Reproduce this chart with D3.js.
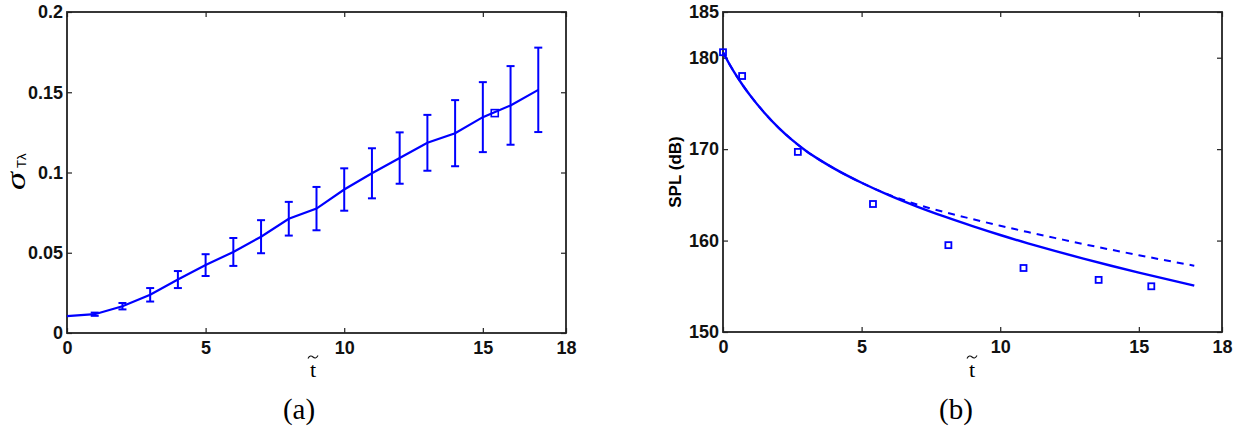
<!DOCTYPE html>
<html>
<head>
<meta charset="utf-8">
<script src="https://cdn.jsdelivr.net/npm/d3@7"></script>
<style>
  body { margin: 0; background: #fff; }
  svg { display: block; }
</style>
</head>
<body>
<svg width="1245" height="433"></svg>
<script>
// panel (a): sigma vs t with error bars
const tA = [0, 1, 2, 3, 4, 5, 6, 7, 8, 9, 10, 11, 12, 13, 14, 15, 16, 17];
const sigmaA = [0.0105, 0.0117, 0.0167, 0.0238, 0.0333, 0.0423, 0.0505, 0.0600, 0.0712, 0.0775,
  0.0894, 0.0995, 0.1090, 0.1185, 0.1245, 0.1345, 0.1418, 0.1515];
const errA = [0, 0.001, 0.002, 0.0042, 0.0053, 0.0068, 0.0087, 0.0103, 0.0105, 0.0135,
  0.0132, 0.0156, 0.016, 0.0174, 0.0206, 0.0218, 0.0245, 0.0263];
const markTA = [15.43];
const markSigmaA = [0.137];

// panel (b): SPL vs t
const tCurve = [0, 0.25, 0.5, 0.75, 1, 1.5, 2, 2.5, 3, 3.5, 4, 5, 6, 7, 8, 9, 10, 11, 12, 13, 14, 15, 16, 17];
const splSolid = [180.6, 179.2, 177.95, 176.83, 175.8, 173.95, 172.35, 170.98, 169.8, 168.8, 167.9, 166.32,
  164.94, 163.72, 162.61, 161.58, 160.61, 159.7, 158.84, 158.03, 157.25, 156.5, 155.78, 155.08];
const splDashed = [180.6, 179.2, 177.95, 176.83, 175.8, 173.95, 172.35, 170.98, 169.8, 168.8, 167.9, 166.32,
  165.0, 163.95, 163.1, 162.35, 161.62, 160.93, 160.27, 159.62, 159.0, 158.4, 157.82, 157.25];
const tSquares = [0, 0.69, 2.7, 5.41, 8.13, 10.84, 13.55, 15.45];
const splSquares = [180.6, 178.0, 169.7, 164.0, 159.5, 157.0, 155.7, 155.0];

const xTicks = [0, 5, 10, 15, 18];
const yTicksA = [0, 0.05, 0.1, 0.15, 0.2];
const yTicksB = [150, 160, 170, 180, 185];

const blue = "#0000ff";
const sans = "'Liberation Sans', Arial, sans-serif";
const serif = "'Liberation Serif', 'DejaVu Serif', serif";

const svg = d3.select("svg");

function frame(x, y, yTicks, yFmt) {
  const g = svg.append("g");
  const [x0, x1] = x.range();
  const [y0, y1] = y.range();

  g.append("g")
    .attr("transform", `translate(0,${y0})`)
    .call(d3.axisBottom(x).tickValues(xTicks).tickSizeInner(-5).tickSizeOuter(0).tickPadding(8).tickFormat(d3.format("d")));
  g.append("g")
    .attr("transform", `translate(0,${y1})`)
    .call(d3.axisTop(x).tickValues(xTicks).tickSizeInner(-5).tickSizeOuter(0).tickFormat(""));
  g.append("g")
    .attr("transform", `translate(${x0},0)`)
    .call(d3.axisLeft(y).tickValues(yTicks).tickSizeInner(-5).tickSizeOuter(0).tickPadding(4).tickFormat(yFmt));
  g.append("g")
    .attr("transform", `translate(${x1},0)`)
    .call(d3.axisRight(y).tickValues(yTicks).tickSizeInner(-5).tickSizeOuter(0).tickFormat(""));

  g.selectAll(".domain").remove();
  g.selectAll(".tick line").attr("stroke", "#222").attr("stroke-width", 1.2);
  g.selectAll(".tick text")
    .attr("font-family", sans)
    .attr("font-size", 18)
    .attr("font-weight", "bold")
    .attr("fill", "#111");

  g.append("rect")
    .attr("x", x0).attr("y", y1)
    .attr("width", x1 - x0).attr("height", y0 - y1)
    .attr("fill", "none").attr("stroke", "#222").attr("stroke-width", 1.8);
  return g;
}

function tildeLabel(cx) {
  svg.append("text")
    .attr("x", cx).attr("y", 377)
    .attr("text-anchor", "middle")
    .attr("font-family", serif)
    .attr("font-size", 22)
    .text("t");
  // the tilde accent over the t
  svg.append("path")
    .attr("transform", `translate(${cx},357)`)
    .attr("d", "M-5,1.5 C-3.5,-1.5 -1.5,-1.5 0,0 C1.5,1.5 3.5,1.5 5,-1.5")
    .attr("fill", "none").attr("stroke", "#111").attr("stroke-width", 1.1);
}

// ---- panel (a)
const xA = d3.scaleLinear().domain([0, 18]).range([67, 566]);
const yA = d3.scaleLinear().domain([0, 0.2]).range([333, 12]);
frame(xA, yA, yTicksA, d => String(d));

const gA = svg.append("g");
gA.append("path")
  .datum(tA.map((t, i) => [t, sigmaA[i]]))
  .attr("fill", "none").attr("stroke", blue).attr("stroke-width", 2.2)
  .attr("d", d3.line().x(d => xA(d[0])).y(d => yA(d[1])));

const bars = gA.selectAll(".eb")
  .data(tA.map((t, i) => ({ t, v: sigmaA[i], e: errA[i] })).filter(d => d.e > 0))
  .enter().append("g").attr("class", "eb")
  .attr("stroke", blue).attr("stroke-width", 2);
bars.append("line")
  .attr("x1", d => xA(d.t)).attr("x2", d => xA(d.t))
  .attr("y1", d => yA(d.v - d.e)).attr("y2", d => yA(d.v + d.e));
bars.append("line")
  .attr("x1", d => xA(d.t) - 4).attr("x2", d => xA(d.t) + 4)
  .attr("y1", d => yA(d.v + d.e)).attr("y2", d => yA(d.v + d.e));
bars.append("line")
  .attr("x1", d => xA(d.t) - 4).attr("x2", d => xA(d.t) + 4)
  .attr("y1", d => yA(d.v - d.e)).attr("y2", d => yA(d.v - d.e));

gA.selectAll(".mk")
  .data(markTA.map((t, i) => [t, markSigmaA[i]]))
  .enter().append("rect")
  .attr("x", d => xA(d[0]) - 3.5).attr("y", d => yA(d[1]) - 3.5)
  .attr("width", 7).attr("height", 7)
  .attr("fill", "none").attr("stroke", blue).attr("stroke-width", 1.6);

// y label sigma_{T lambda}
const lab = svg.append("g").attr("transform", "translate(25,0) rotate(-90)");
lab.append("text")
  .attr("transform", "translate(-190,0) scale(1.3,1)")
  .attr("font-family", serif)
  .attr("font-style", "italic")
  .attr("font-size", 28)
  .text("σ");
lab.append("text")
  .attr("x", -168).attr("y", 1)
  .attr("font-family", sans)
  .attr("font-size", 13)
  .text("Tλ");

tildeLabel(313);
svg.append("text")
  .attr("x", 299).attr("y", 419)
  .attr("text-anchor", "middle")
  .attr("font-family", serif)
  .attr("font-size", 29)
  .text("(a)");

// ---- panel (b)
const xB = d3.scaleLinear().domain([0, 18]).range([723, 1222]);
const yB = d3.scaleLinear().domain([150, 185]).range([332, 12]);
frame(xB, yB, yTicksB, d3.format("d"));

const gB = svg.append("g");
const lineB = d3.line().x(d => xB(d[0])).y(d => yB(d[1])).curve(d3.curveMonotoneX);
gB.append("path")
  .datum(tCurve.map((t, i) => [t, splDashed[i]]))
  .attr("fill", "none").attr("stroke", blue).attr("stroke-width", 2)
  .attr("stroke-dasharray", "7,6")
  .attr("d", lineB);
gB.append("path")
  .datum(tCurve.map((t, i) => [t, splSolid[i]]))
  .attr("fill", "none").attr("stroke", blue).attr("stroke-width", 2.4)
  .attr("d", lineB);

gB.selectAll(".sq")
  .data(tSquares.map((t, i) => [t, splSquares[i]]))
  .enter().append("rect")
  .attr("x", d => xB(d[0]) - 3).attr("y", d => yB(d[1]) - 3)
  .attr("width", 6).attr("height", 6)
  .attr("fill", "none").attr("stroke", blue).attr("stroke-width", 1.8);

svg.append("text")
  .attr("transform", "translate(681,172) rotate(-90)")
  .attr("text-anchor", "middle")
  .attr("font-family", sans)
  .attr("font-size", 17)
  .attr("font-weight", "bold")
  .text("SPL (dB)");

tildeLabel(972);
svg.append("text")
  .attr("x", 956).attr("y", 419)
  .attr("text-anchor", "middle")
  .attr("font-family", serif)
  .attr("font-size", 29)
  .text("(b)");
</script>
</body>
</html>
